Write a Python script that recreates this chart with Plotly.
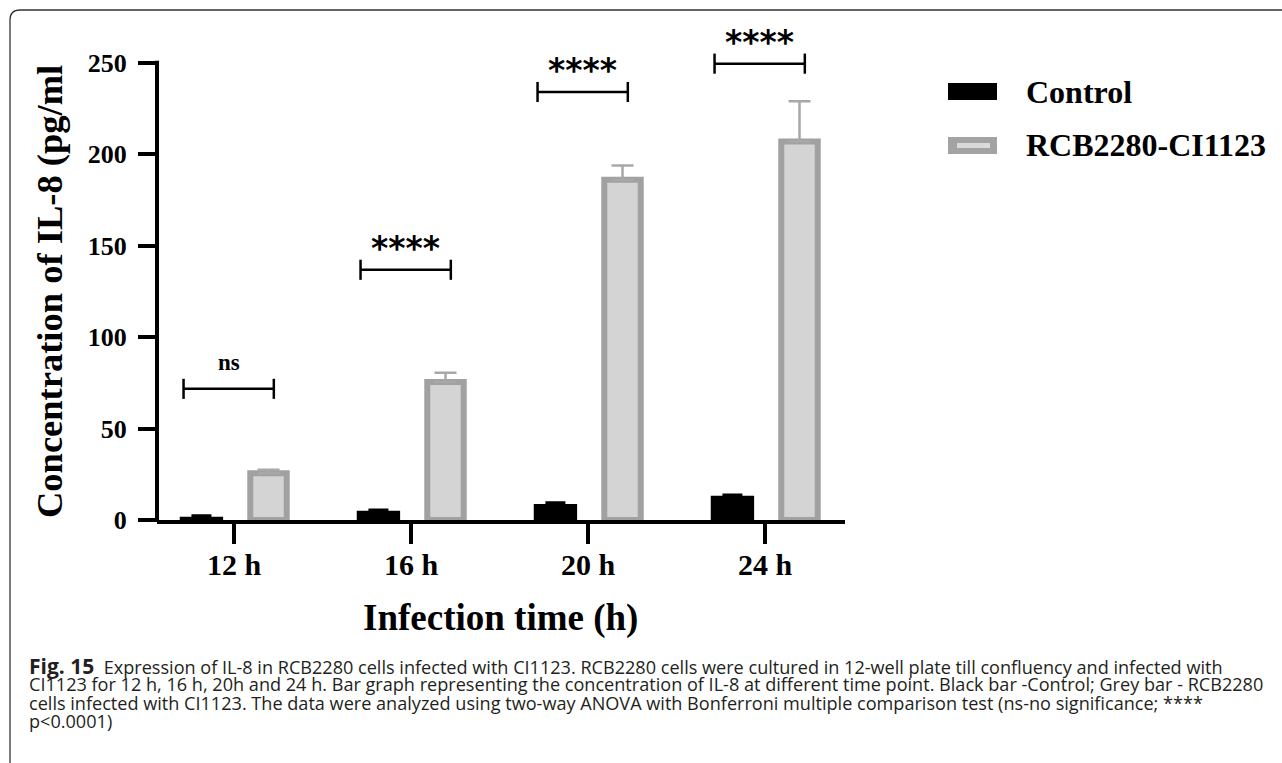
import plotly.graph_objects as go

# ---------------- data ----------------
categories = ["12 h", "16 h", "20 h", "24 h"]
series_names = ["Control", "RCB2280-CI1123"]
control_vals = [1.8, 5.1, 8.8, 13.3]
control_err = [0.8, 0.7, 0.9, 0.7]
infected_vals = [25.5, 75.5, 186.0, 207.0]
infected_err = [2.0, 5.0, 7.8, 22.0]
sig_labels = ["ns", "****", "****", "****"]
sig_levels = [71.7, 136.8, 234.0, 249.5]
y_ticks = [0, 50, 100, 150, 200, 250]

caption_lines = [
    "<span style='font-size:21px'><b>Fig. 15</b></span>\u00a0\u00a0Expression of IL-8 in RCB2280 cells infected with CI1123. RCB2280 cells were cultured in 12-well plate till confluency and infected with",
    "CI1123 for 12 h, 16 h, 20h and 24 h. Bar graph representing the concentration of IL-8 at different time point. Black bar -Control; Grey bar - RCB2280",
    "cells infected with CI1123. The data were analyzed using two-way ANOVA with Bonferroni multiple comparison test (ns-no significance; ****",
    "p<0.0001)",
]

# ---------------- layout constants ----------------
W, H = 1282, 763
L, R, T, B = 157, 437, 17, 243
PW, PH = W - L - R, H - T - B
Y_MAX = 275
X_RANGE = [-0.435, 3.452]
SERIF = "Liberation Serif, Times New Roman, serif"

def px(xp):
    return (xp - L) / PW

def py(yp):
    return (H - B - yp) / PH

x = list(range(len(categories)))

fig = go.Figure()
fig.add_trace(go.Bar(
    x=x, y=control_vals, name=series_names[0],
    width=0.245, offset=-0.184 - 0.1225,
    marker=dict(color="#000000", line=dict(width=0)),
    error_y=dict(type="data", symmetric=False, array=control_err,
                 arrayminus=[0] * 4, color="#000000", thickness=2, width=10),
    showlegend=False,
))
fig.add_trace(go.Bar(
    x=x, y=infected_vals, name=series_names[1],
    width=0.206, offset=0.195 - 0.103,
    marker=dict(color="#d4d4d4", line=dict(width=6, color="#a1a1a1")),
    error_y=dict(type="data", symmetric=False, array=infected_err,
                 arrayminus=[0] * 4, color="#a8a8a8", thickness=2.5, width=11),
    showlegend=False,
))

shapes = []
annotations = []

# y axis line (0..250)
shapes.append(dict(type="line", xref="paper", yref="paper",
                   x0=0, x1=0, y0=py(H - B + 2), y1=250 / Y_MAX + 0.004,
                   line=dict(color="black", width=4)))

# significance brackets
for i, (lab, lev) in enumerate(zip(sig_labels, sig_levels)):
    xl, xr = i - 0.285, i + 0.225
    shapes.append(dict(type="line", xref="x", yref="y", x0=xl, x1=xr, y0=lev, y1=lev,
                       line=dict(color="black", width=2.5)))
    for xe in (xl, xr):
        shapes.append(dict(type="line", xref="x", yref="y", x0=xe, x1=xe,
                           y0=lev - 5.5, y1=lev + 5.5, line=dict(color="black", width=2.5)))
    if lab == "ns":
        annotations.append(dict(x=(xl + xr) / 2, y=lev + 6.5, xref="x", yref="y",
                                text="<b>ns</b>", showarrow=False, yanchor="bottom",
                                font=dict(family=SERIF, size=23, color="black")))
    else:
        annotations.append(dict(x=(xl + xr) / 2, y=lev, xref="x", yref="y",
                                text="<b>****</b>", showarrow=False, yanchor="bottom",
                                font=dict(family="DejaVu Sans", size=33, color="black")))

# custom legend
shapes.append(dict(type="rect", xref="paper", yref="paper", x0=px(948), x1=px(997),
                   y0=py(100), y1=py(83), fillcolor="black", line=dict(width=0)))
shapes.append(dict(type="rect", xref="paper", yref="paper", x0=px(948), x1=px(997),
                   y0=py(154), y1=py(137), fillcolor="#a3a3a3", line=dict(width=0)))
shapes.append(dict(type="rect", xref="paper", yref="paper", x0=px(957), x1=px(990),
                   y0=py(148), y1=py(143), fillcolor="#dadada", line=dict(width=0)))
for name, yc in zip(series_names, [92, 145]):
    annotations.append(dict(x=px(1024), y=py(yc), xref="paper", yref="paper",
                            text="<b>%s</b>" % name, showarrow=False,
                            xanchor="left", yanchor="middle",
                            font=dict(family=SERIF, size=32, color="black")))

# axis titles
annotations.append(dict(x=px(49), y=py(292), xref="paper", yref="paper",
                        text="<b>Concentration of IL-8 (pg/ml</b>", textangle=-90,
                        showarrow=False, xanchor="center", yanchor="middle",
                        font=dict(family=SERIF, size=36.5, color="black")))
annotations.append(dict(x=px(500), y=py(618), xref="paper", yref="paper",
                        text="<b>Infection time (h)</b>", showarrow=False,
                        xanchor="center", yanchor="middle",
                        font=dict(family=SERIF, size=37, color="black")))

# caption box (rounded top-left corner, open right/bottom)
x0b, y0b, rr = 10, 10, 10
path = "M %f,%f L %f,%f Q %f,%f %f,%f L %f,%f" % (
    px(x0b), py(H + 5), px(x0b), py(y0b + rr), px(x0b), py(y0b),
    px(x0b + rr), py(y0b), px(W + 5), py(y0b))
shapes.append(dict(type="path", xref="paper", yref="paper", path=path,
                   line=dict(color="#333333", width=1.3)))

for ln, yc in zip(caption_lines, [665.5, 684, 702.5, 721]):
    annotations.append(dict(x=px(27), y=py(yc), xref="paper", yref="paper",
                            text=ln, showarrow=False, xanchor="left", yanchor="middle",
                            font=dict(family="Open Sans, Noto Sans, sans-serif",
                                      size=18.1, color="#231f20")))

fig.update_layout(
    width=W, height=H,
    margin=dict(l=L, r=R, t=T, b=B, pad=0),
    paper_bgcolor="white", plot_bgcolor="white",
    barmode="group",
    shapes=shapes, annotations=annotations,
    xaxis=dict(range=X_RANGE, tickvals=x, ticktext=categories,
               showline=True, linecolor="black", linewidth=4,
               ticks="outside", ticklen=20, tickwidth=4, tickcolor="black",
               showgrid=False, zeroline=False, ticklabelstandoff=-5,
               tickfont=dict(family=SERIF, size=30, color="black", weight="bold")),
    yaxis=dict(range=[0, Y_MAX], tickvals=y_ticks,
               showline=False, ticks="outside", ticklen=18, tickwidth=4,
               tickcolor="black", showgrid=False, zeroline=False,
               ticklabelstandoff=6,
               tickfont=dict(family=SERIF, size=26, color="black", weight="bold")),
)

fig.write_html("out.html")
